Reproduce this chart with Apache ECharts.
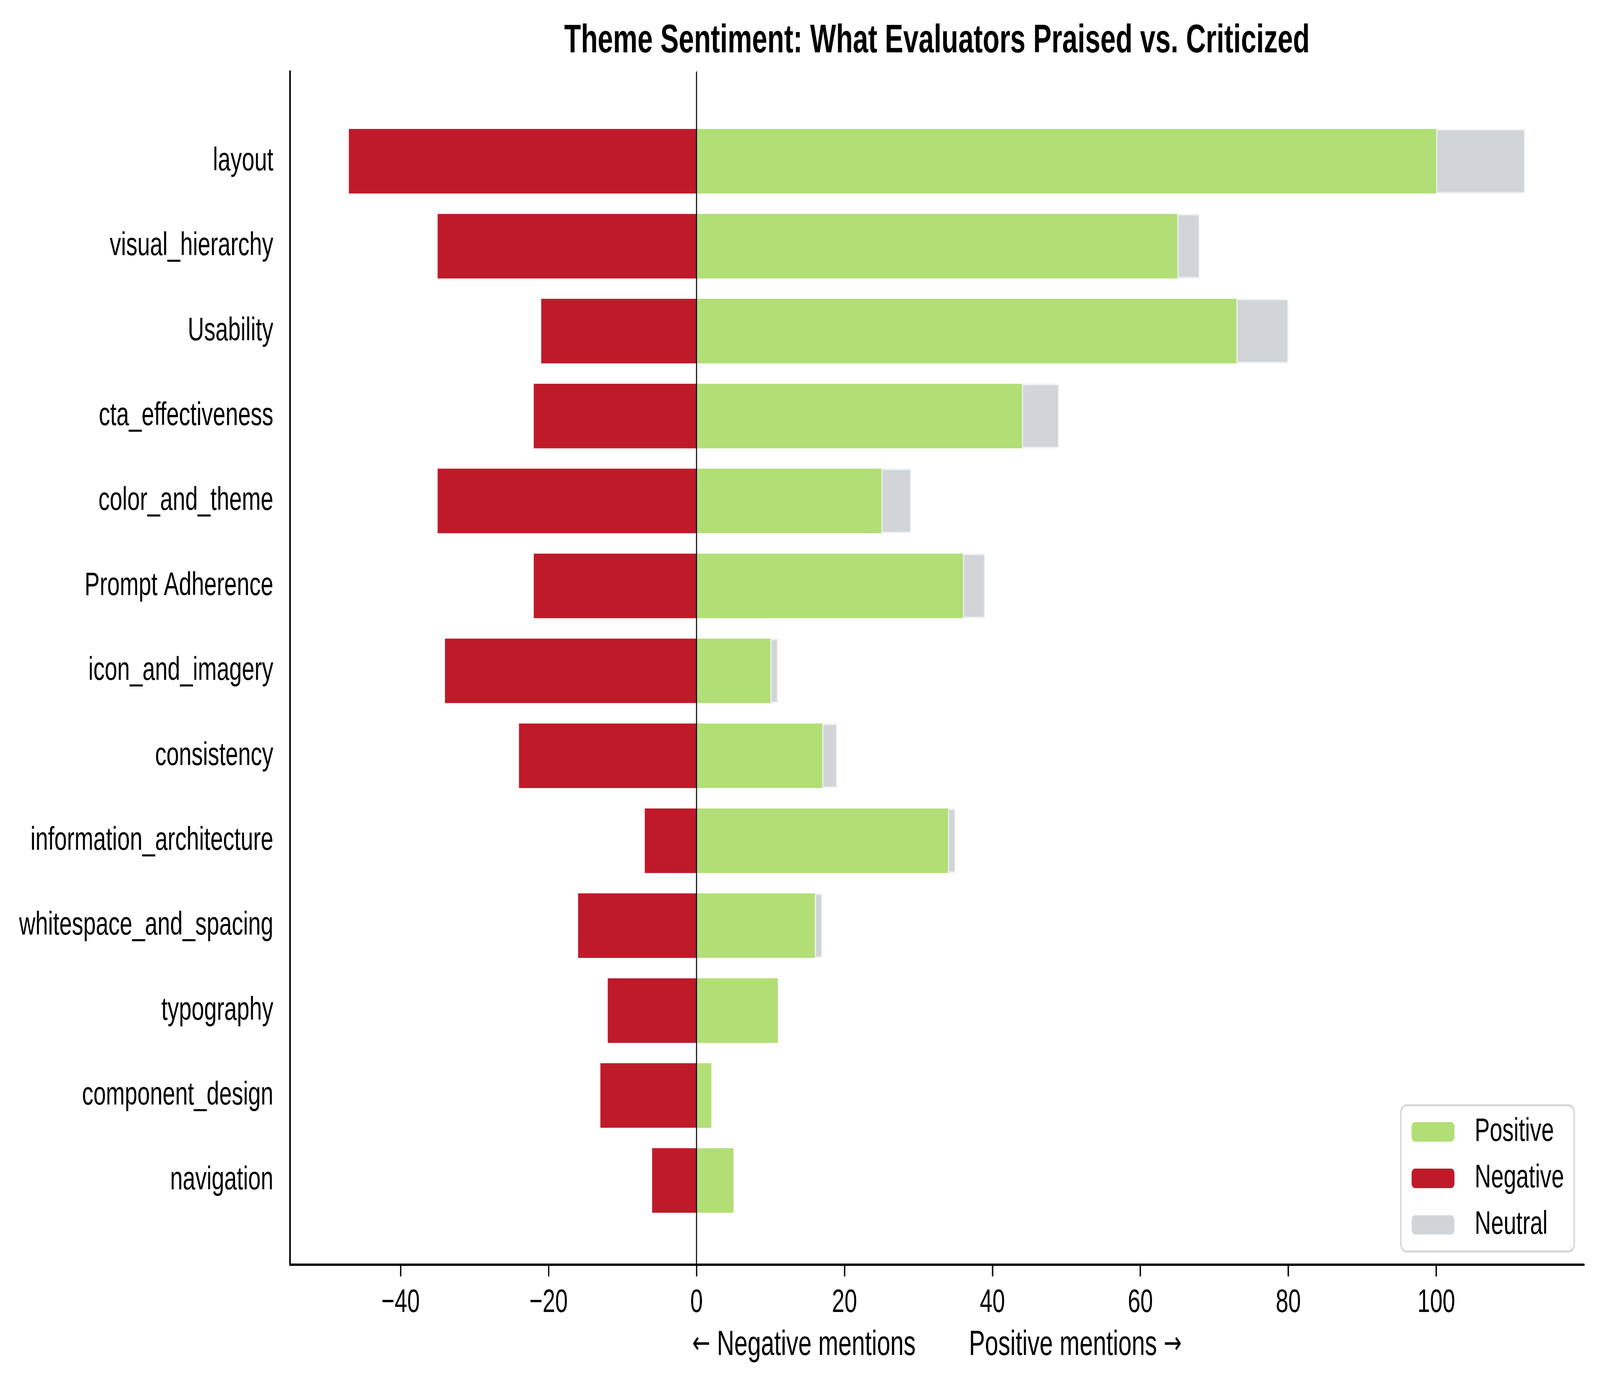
<!DOCTYPE html>
<html>
<head>
<meta charset="utf-8">
<script src="https://cdn.jsdelivr.net/npm/echarts@6/dist/echarts.min.js"></script>
<style>
html,body{margin:0;padding:0;background:#fff;overflow:hidden;}
#chart{position:absolute;left:0;top:0;width:5936px;height:3550px;transform-origin:0 0;}
</style>
</head>
<body>
<div id="chart"></div>
<script>
const categories = ['layout','visual_hierarchy','Usability','cta_effectiveness','color_and_theme','Prompt Adherence','icon_and_imagery','consistency','information_architecture','whitespace_and_spacing','typography','component_design','navigation'];
const positive = [100, 65, 73, 44, 25, 36, 10, 17, 34, 16, 11, 2, 5];
const negative = [47, 35, 21, 22, 35, 22, 34, 24, 7, 16, 12, 13, 6];
const neutral  = [12, 3, 7, 5, 4, 3, 1, 2, 1, 1, 0, 0, 0];
const xTickValues = [-40, -20, 0, 20, 40, 60, 80, 100];
const xMin = -54.95, xMax = 119.95;

const W0 = 5936, H0 = 3550;
const vw = window.innerWidth || W0, vh = window.innerHeight || H0;
const el = document.getElementById('chart');
// fit the 5936x3550 design into the actual window
el.style.transform = 'scale(' + (vw / W0) + ',' + (vh / H0) + ')';

const FONT = 'Liberation Sans';
const chart = echarts.init(el, null, {renderer: 'canvas', width: W0, height: H0});

const option = {
  animation: false,
  backgroundColor: '#ffffff',
  textStyle: {fontFamily: FONT, color: '#000'},
  title: {
    text: 'Theme Sentiment: What Evaluators Praised vs. Criticized',
    left: 3476, top: 55, textAlign: 'center', padding: 0,
    textStyle: {fontFamily: FONT, fontSize: 102, fontWeight: 'bold', color: '#000'}
  },
  legend: {
    data: ['Positive', 'Negative', 'Neutral'],
    orient: 'vertical',
    left: 5197, top: 2829,
    padding: [26, 38, 26, 39],
    itemWidth: 159, itemHeight: 50, itemGap: 35,
    backgroundColor: '#fff',
    borderColor: '#d1d5d8', borderWidth: 5, borderRadius: 20,
    textStyle: {fontFamily: FONT, fontSize: 84, lineHeight: 80, color: '#000', padding: [0, 0, 0, 70]}
  },
  grid: [
    {left: 1076, right: 60, top: 183, bottom: 313, outerBoundsMode: 'none', containLabel: false},
    {left: 1076, right: 60, top: 304, bottom: 420, outerBoundsMode: 'none', containLabel: false}
  ],
  xAxis: [
    {
      gridIndex: 0, type: 'value', min: xMin, max: xMax,
      axisLine: {show: true, onZero: false, lineStyle: {color: '#000', width: 6}},
      axisTick: {show: true, customValues: xTickValues, length: 30, lineStyle: {color: '#000', width: 5}},
      axisLabel: {show: true, customValues: xTickValues, fontFamily: FONT, fontSize: 84, color: '#000', margin: 56,
        formatter: v => (v < 0 ? '\u2212' + Math.abs(v) : String(v))},
      splitLine: {show: false},
      name: '{a|\u2190} Negative mentions        Positive mentions {a|\u2192}',
      nameLocation: 'middle', nameGap: 162,
      nameTextStyle: {fontFamily: FONT, fontSize: 89, color: '#000',
        rich: {a: {fontFamily: 'DejaVu Sans', fontSize: 80, color: '#000'}}}
    },
    {
      gridIndex: 1, type: 'value', min: xMin, max: xMax, show: false,
      splitLine: {show: false}
    }
  ],
  yAxis: [
    {
      gridIndex: 0, type: 'value', min: 0, max: 1,
      axisLine: {show: true, onZero: false, lineStyle: {color: '#000', width: 6}},
      axisTick: {show: false}, axisLabel: {show: false}, splitLine: {show: false}
    },
    {
      gridIndex: 1, type: 'category', data: categories, inverse: true,
      axisLine: {show: false},
      axisTick: {show: true, alignWithLabel: true, length: 30, lineStyle: {color: '#000', width: 5}},
      axisLabel: {fontFamily: FONT, fontSize: 84, color: '#000', margin: 62},
      splitLine: {show: false}
    }
  ],
  series: [
    {
      name: 'Positive', type: 'bar', stack: 'total', xAxisIndex: 1, yAxisIndex: 1,
      barWidth: '76%', data: positive,
      itemStyle: {color: '#b2de76'}
    },
    {
      name: 'Negative', type: 'bar', stack: 'total', xAxisIndex: 1, yAxisIndex: 1,
      barWidth: '76%', data: negative.map(v => -v),
      itemStyle: {color: '#be1a2a'}
    },
    {
      name: 'Neutral', type: 'bar', stack: 'total', xAxisIndex: 1, yAxisIndex: 1,
      barWidth: '76%', data: neutral.map(v => (v === 0 ? '-' : v)),
      itemStyle: {color: '#d1d5d8', borderColor: '#eef0f2', borderWidth: 4}
    },
    {
      name: 'zero', type: 'line', xAxisIndex: 0, yAxisIndex: 0, data: [],
      markLine: {
        silent: true, symbol: 'none', label: {show: false},
        lineStyle: {color: '#000', width: 4, type: 'solid'},
        data: [{xAxis: 0}]
      }
    }
  ]
};
chart.setOption(option);
</script>
</body>
</html>
